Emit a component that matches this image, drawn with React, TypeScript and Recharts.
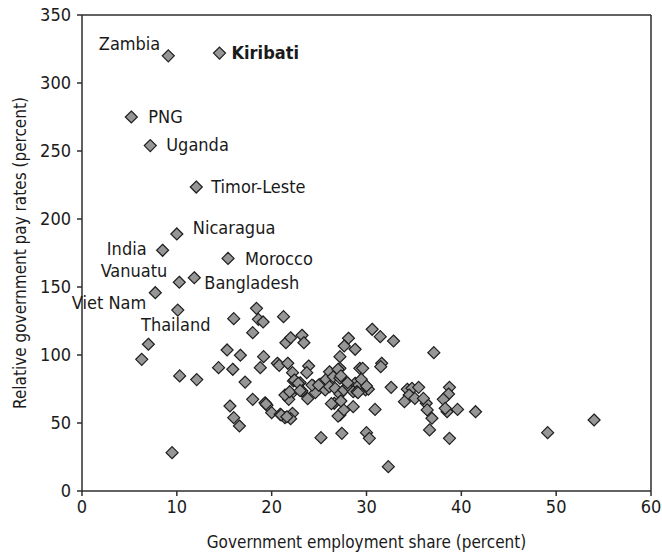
import React from 'react';
import {
  ScatterChart,
  Scatter,
  XAxis,
  YAxis,
  ReferenceLine,
} from 'recharts';

// labelled countries: [government employment share, relative pay rate]
const countries = ['Zambia', 'Kiribati', 'PNG', 'Uganda', 'Timor-Leste', 'Nicaragua', 'India', 'Morocco', 'Vanuatu', 'Bangladesh', 'Viet Nam', 'Thailand'];
const countryShare = [9.1, 14.5, 5.2, 7.2, 12.05, 10.0, 8.5, 15.4, 10.26, 11.84, 7.73, 10.1];
const countryPay = [320, 322, 275, 254, 223.5, 189, 177, 171, 153.5, 156.8, 145.8, 133];

// the rest of the sample
const otherPoints: [number, number][] = [
  [6.3, 96.8], [7.0, 107.9], [10.3, 84.6], [12.1, 81.9], [9.5, 28.2],
  [16.0, 126.7], [14.4, 90.7], [15.3, 103.7], [15.9, 89.5], [16.7, 99.8], [17.2, 80.1], [15.6, 62.5],
  [16.0, 53.9], [16.6, 47.8], [18.0, 67.4], [18.0, 116.4], [18.4, 134.3], [18.6, 126.2], [19.1, 124.3],
  [19.15, 98.8], [18.8, 90.7], [19.3, 64.9], [19.5, 63.0], [20.0, 57.6], [20.6, 93.9], [20.8, 92.4],
  [21.25, 128.2], [21.5, 109], [22.0, 112.7], [21.7, 93.9], [22.2, 87], [22.3, 80.9], [22.0, 71.1],
  [21.8, 67.4], [20.9, 56.4], [21.4, 53.9], [22.2, 57.1], [22.0, 53.2], [23.2, 114.5], [23.4, 109],
  [23.9, 91.9], [23.7, 87], [23.0, 79.6], [23.2, 73.5], [23.8, 67.9], [24.4, 77.2], [24.6, 72.3],
  [25.2, 39.2], [25.1, 78.5], [25.65, 74.3], [25.75, 82.1],
  [28.1, 112.3], [27.65, 106.6], [28.8, 104.2], [27.2, 98.8], [29.3, 90.2], [22.4, 81.6], [22.8, 79.2],
  [21.4, 70.6], [21.9, 73], [23.0, 73.8], [24.25, 77.9], [24.95, 77.9], [26.1, 87.7], [26.5, 84],
  [27.2, 90.2], [27.2, 82.9], [26.1, 76.7], [26.7, 75.5], [27.2, 71.3], [27.6, 74.3], [28.1, 77.2],
  [28.8, 79.2], [28.6, 73], [26.6, 64.5], [27.2, 55.9], [27.6, 59.6], [28.6, 62], [27.4, 42.4],
  [19.4, 64], [21.0, 55.9], [21.6, 54.6],
  [30.6, 118.9], [31.45, 113.5], [32.85, 110.3], [37.1, 101.7], [29.6, 90.2], [31.6, 93.9], [31.5, 91.4],
  [29.2, 77.9], [29.0, 73], [29.9, 74.3], [30.2, 74.8], [32.6, 76.2], [30.9, 60], [30.0, 42.9],
  [30.3, 38.7], [32.3, 17.9], [34.3, 74.8], [34.8, 75.5], [34.5, 70.6], [35.5, 76.2], [34.0, 65.7],
  [35.1, 68.1], [36.3, 64.5], [36.4, 59.6], [36.9, 53.5], [36.65, 44.9], [36.0, 68.1], [38.75, 76.2],
  [38.65, 71.3], [38.1, 67.4], [38.5, 58.3], [38.3, 60.8], [39.6, 60], [38.75, 38.7], [41.5, 58.3],
  [49.1, 42.9], [54.0, 52.2], [30.0, 77.2], [27.0, 89.5], [27.3, 84.6], [28.0, 79.6], [29.1, 72.3],
  [29.45, 82.1], [27.0, 55.1], [26.3, 64.2], [27.3, 66.2],
];

const xTicks = [0, 10, 20, 30, 40, 50, 60];
const yTicks = [0, 50, 100, 150, 200, 250, 300, 350];

const FONT = '"DejaVu Sans Condensed", "DejaVu Sans", sans-serif';

// where each country name sits relative to its marker
const labelPlace: Record<string, { dx: number; dy: number; anchor: 'start' | 'middle' | 'end'; bold?: boolean }> = {
  Zambia: { dx: -8, dy: -6, anchor: 'end' },
  Kiribati: { dx: 12, dy: 6, anchor: 'start', bold: true },
  PNG: { dx: 17, dy: 6, anchor: 'start' },
  Uganda: { dx: 16, dy: 5, anchor: 'start' },
  'Timor-Leste': { dx: 15, dy: 6, anchor: 'start' },
  Nicaragua: { dx: 16, dy: 0, anchor: 'start' },
  India: { dx: -16, dy: 5, anchor: 'end' },
  Morocco: { dx: 17, dy: 7, anchor: 'start' },
  Vanuatu: { dx: -12, dy: -5, anchor: 'end' },
  Bangladesh: { dx: 10, dy: 11, anchor: 'start' },
  'Viet Nam': { dx: -9, dy: 16, anchor: 'end' },
  Thailand: { dx: -2, dy: 21, anchor: 'middle' },
};

const named = countries.map((name, i) => ({ name, x: countryShare[i], y: countryPay[i] }));
const rest = otherPoints.map(([x, y]) => ({ x, y }));

const Diamond = (props: any) => {
  const { cx, cy, payload } = props;
  const r = 6;
  const place = payload && payload.name ? labelPlace[payload.name] : null;
  return (
    <g>
      <path
        d={`M${cx},${cy - r}L${cx + r},${cy}L${cx},${cy + r}L${cx - r},${cy}Z`}
        fill="#969696"
        stroke="#1e1e1e"
        strokeWidth={1.2}
      />
      {place && (
        <text
          x={cx + place.dx}
          y={cy + place.dy}
          textAnchor={place.anchor}
          fontFamily={FONT}
          fontSize={18}
          fontWeight={place.bold ? 'bold' : 'normal'}
          fill="#1a1a1a"
        >
          {payload.name}
        </text>
      )}
    </g>
  );
};

export default function App() {
  return (
    <div style={{ position: 'absolute', left: 0, top: 0, background: '#fff' }}>
      <ScatterChart width={662} height={552} margin={{ top: 15, right: 11, left: 0, bottom: 0 }}>
        <XAxis
          type="number"
          dataKey="x"
          domain={[0, 60]}
          ticks={xTicks}
          height={61}
          stroke="#2e2e2e"
          strokeWidth={1.5}
          tickSize={5}
          tickMargin={4}
          tick={{ fill: '#1a1a1a', fontSize: 18, fontFamily: FONT }}
          label={{
            value: 'Government employment share (percent)',
            position: 'insideBottom',
            offset: 4,
            style: { fill: '#1a1a1a', fontSize: 17, fontFamily: FONT },
          }}
        />
        <YAxis
          type="number"
          dataKey="y"
          domain={[0, 350]}
          ticks={yTicks}
          width={82}
          stroke="#2e2e2e"
          strokeWidth={1.5}
          tickSize={5}
          tickMargin={6}
          tick={{ fill: '#1a1a1a', fontSize: 18, fontFamily: FONT }}
          label={{
            value: 'Relative government pay rates (percent)',
            position: 'insideLeft',
            angle: -90,
            offset: 20,
            style: { fill: '#1a1a1a', fontSize: 17, fontFamily: FONT, textAnchor: 'middle' },
          }}
        />
        <ReferenceLine y={350} stroke="#2e2e2e" strokeWidth={1.5} />
        <ReferenceLine x={60} stroke="#2e2e2e" strokeWidth={1.5} />
        <Scatter data={rest} shape={Diamond} isAnimationActive={false} />
        <Scatter data={named} shape={Diamond} isAnimationActive={false} />
      </ScatterChart>
    </div>
  );
}
